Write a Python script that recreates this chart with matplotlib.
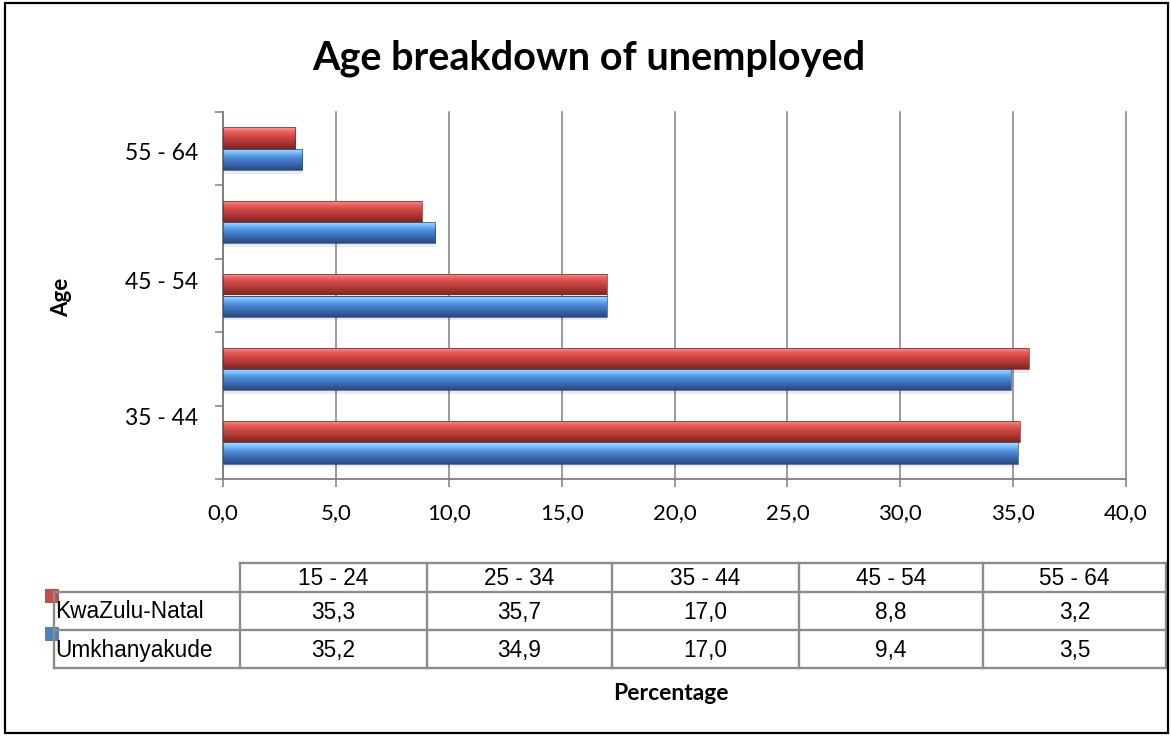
import numpy as np
import matplotlib
matplotlib.use("Agg")
import matplotlib.pyplot as plt
from matplotlib.colors import LinearSegmentedColormap
from matplotlib.lines import Line2D
from matplotlib.patches import Rectangle

# ---- data ----
categories = ["15 - 24", "25 - 34", "35 - 44", "45 - 54", "55 - 64"]
kwazulu_natal = [35.3, 35.7, 17.0, 8.8, 3.2]
umkhanyakude = [35.2, 34.9, 17.0, 9.4, 3.5]
series_names = ["KwaZulu-Natal", "Umkhanyakude"]
x_ticks = [0, 5, 10, 15, 20, 25, 30, 35, 40]
shown_labels = ["35 - 44", "45 - 54", "55 - 64"]
shown_label_pos = [0.845, 2.71, 4.46]
title = "Age breakdown of unemployed"

W, H = 1171, 736
fig = plt.figure(figsize=(W / 100, H / 100), dpi=100)

def fx(x):
    return x / W

def fy(y):
    return 1 - y / H

CAL = "Lato"
ARIAL = "Liberation Sans"
GRID = "#7f7f7f"

# axes geometry (pixels)
L, R, T, B = 223, 1126, 112, 479
ax = fig.add_axes([fx(L), fy(B), (R - L) / W, (B - T) / H])

red_cmap = LinearSegmentedColormap.from_list(
    "r", ["#F5A3A1", "#EA6461", "#D44B47", "#BB3D3A", "#9E312E", "#7B2524"])
blue_cmap = LinearSegmentedColormap.from_list(
    "b", ["#B8E0FF", "#7ABDF8", "#5191DC", "#4077C2", "#3460A2", "#27497F"])

bh = 0.29
y = np.arange(len(categories)) + 0.5
grad = np.linspace(0, 1, 64).reshape(-1, 1)

for vals, off, cmap, edge in [(kwazulu_natal, bh / 2, red_cmap, "#7a2523"),
                              (umkhanyakude, -bh / 2, blue_cmap, "#274a80")]:
    # soft shadow
    ax.barh(y + off - 0.05, vals, height=bh, color="#000000", alpha=0.08,
            zorder=2, linewidth=0)
    bars = ax.barh(y + off, vals, height=bh, facecolor="none",
                   edgecolor=edge, linewidth=0.5, zorder=4)
    for p in bars:
        x0, y0 = p.get_xy()
        w, h = p.get_width(), p.get_height()
        im = ax.imshow(grad, extent=[x0, x0 + w, y0, y0 + h], origin="upper",
                       aspect="auto", cmap=cmap, zorder=3, interpolation="bilinear")
        im.set_clip_path(p)

ax.set_xlim(0, 40)
ax.set_ylim(0, 5)
ax.set_xticks(x_ticks)
ax.set_xticklabels([f"{v:.1f}".replace(".", ",") for v in x_ticks],
                   fontfamily=CAL, fontsize=16)
ax.xaxis.grid(True, color=GRID, linewidth=1.1, zorder=0)
for gl in ax.get_xgridlines():
    gl.set_clip_on(False)
ax.set_axisbelow(True)
ax.tick_params(axis="x", direction="out", length=5.5, width=1.1, color=GRID, pad=12)

ax.set_yticks(range(len(categories) + 1))
ax.set_yticklabels([])
ax.tick_params(axis="y", which="major", direction="out", length=5.5, width=1.1, color=GRID)
ax.set_yticks(shown_label_pos, minor=True)
ax.set_yticklabels(shown_labels, minor=True, fontfamily=CAL, fontsize=16.5)
ax.tick_params(axis="y", which="minor", length=0, pad=18)

for s in ["top", "right"]:
    ax.spines[s].set_visible(False)
for s in ["left", "bottom"]:
    ax.spines[s].set_color(GRID)
    ax.spines[s].set_linewidth(1.3)

# title and axis titles
fig.text(fx(589), fy(58), title, ha="center", va="center", fontfamily=CAL,
         fontweight="bold", fontsize=28.5)
fig.text(fx(62), fy(297), "Age", ha="center", va="center", rotation=90,
         fontfamily=CAL, fontweight="bold", fontsize=16)
fig.text(fx(671), fy(694), "Percentage", ha="center", va="center",
         fontfamily=CAL, fontweight="bold", fontsize=16.5)

# legend keys
key_colors = ["#C0504D", "#4F81BD"]
key_y = [589, 627]
for c, ky in zip(key_colors, key_y):
    fig.add_artist(Rectangle((fx(45), fy(ky + 14)), 14 / W, 14 / H,
                             transform=fig.transFigure, facecolor=c,
                             edgecolor="none", zorder=1))

# data table
TC = "#8c8c8c"
col_x = [240, 427, 612, 799, 983, 1166]
row_y = [563, 592, 630, 668]
lab_left = 54

def hline(x0, x1, yy):
    fig.add_artist(Line2D([fx(x0), fx(x1)], [fy(yy), fy(yy)],
                          transform=fig.transFigure, color=TC, lw=1.7, zorder=2))

def vline(xx, y0, y1):
    fig.add_artist(Line2D([fx(xx), fx(xx)], [fy(y0), fy(y1)],
                          transform=fig.transFigure, color=TC, lw=1.7, zorder=2))

hline(col_x[0], col_x[-1], row_y[0])
for yy in row_y[1:]:
    hline(lab_left, col_x[-1], yy)
for xx in col_x:
    vline(xx, row_y[0], row_y[-1])
vline(lab_left, row_y[1], row_y[-1])

FS = 16.3
for i, cat in enumerate(categories):
    cx = (col_x[i] + col_x[i + 1]) / 2
    fig.text(fx(cx), fy((row_y[0] + row_y[1]) / 2 + 1), cat, ha="center",
             va="center", fontfamily=ARIAL, fontsize=FS)
    for r, vals in enumerate([kwazulu_natal, umkhanyakude]):
        cy = (row_y[r + 1] + row_y[r + 2]) / 2 + 1
        fig.text(fx(cx), fy(cy), f"{vals[i]:.1f}".replace(".", ","),
                 ha="center", va="center", fontfamily=ARIAL, fontsize=FS)

for r, name in enumerate(series_names):
    cy = (row_y[r + 1] + row_y[r + 2]) / 2 + 1
    fig.text(fx(lab_left + 1), fy(cy), name, ha="left", va="center",
             fontfamily=ARIAL, fontsize=FS)

# outer frame
fig.add_artist(Rectangle((fx(5), fy(733)), (1168 - 5) / W, (733 - 3) / H,
                         transform=fig.transFigure, facecolor="none",
                         edgecolor="#000000", lw=1.6, zorder=10))

fig.savefig("out.png", dpi=100)
